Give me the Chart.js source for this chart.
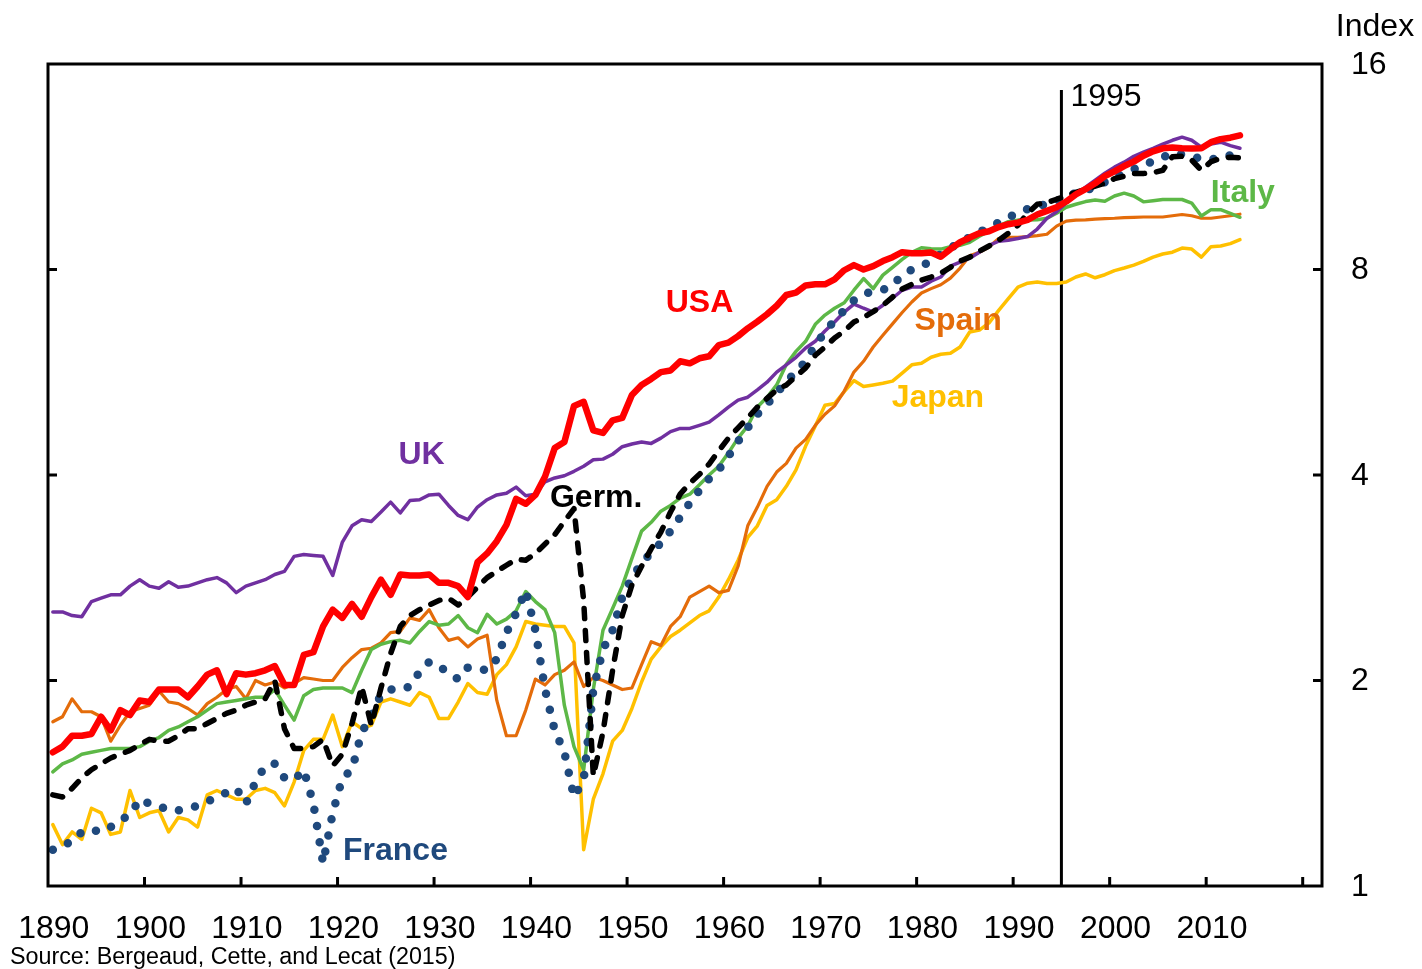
<!DOCTYPE html>
<html>
<head>
<meta charset="utf-8">
<title>Labour productivity index, 1890-2013</title>
<script src="https://cdn.jsdelivr.net/npm/chart.js@4.4.1/dist/chart.umd.min.js"></script>
<style>
  html, body { margin: 0; padding: 0; background: #ffffff; }
  #wrap { width: 1422px; height: 969px; position: relative; }
</style>
</head>
<body>
<div id="wrap"><canvas id="chart" width="1422" height="969"></canvas></div>
<script>
// Annual index values, 1890 to 2013 (log scale, 1 to 16)
const firstYear = 1890;

const usa = [
  1.57,1.60,1.66,1.66,1.67,1.77,1.69,1.81,1.78,1.87,
  1.86,1.94,1.94,1.94,1.89,1.96,2.04,2.07,1.91,2.05,
  2.04,2.05,2.07,2.10,1.97,1.97,2.18,2.20,2.40,2.54,
  2.47,2.59,2.48,2.65,2.81,2.67,2.86,2.85,2.85,2.86,
  2.78,2.78,2.75,2.65,2.98,3.07,3.20,3.38,3.69,3.63,
  3.74,3.98,4.38,4.47,5.05,5.12,4.65,4.61,4.81,4.85,
  5.24,5.42,5.53,5.66,5.69,5.87,5.83,5.93,5.97,6.20,
  6.25,6.39,6.56,6.71,6.88,7.08,7.34,7.40,7.58,7.61,
  7.61,7.74,7.98,8.12,8.00,8.09,8.23,8.34,8.48,8.45,
  8.45,8.47,8.35,8.57,8.77,8.91,9.04,9.10,9.23,9.32,
  9.37,9.46,9.63,9.75,9.87,10.06,10.31,10.49,10.70,10.96,
  11.14,11.34,11.51,11.74,11.92,12.04,12.07,12.04,12.03,12.04,
  12.29,12.42,12.48,12.58
];

const uk = [
  2.52,2.52,2.49,2.48,2.61,2.64,2.67,2.67,2.75,2.81,
  2.75,2.73,2.79,2.74,2.75,2.78,2.81,2.83,2.78,2.69,
  2.75,2.78,2.81,2.86,2.89,3.04,3.06,3.05,3.04,2.85,
  3.19,3.37,3.44,3.42,3.53,3.65,3.52,3.67,3.68,3.74,
  3.75,3.61,3.49,3.44,3.59,3.68,3.74,3.76,3.84,3.73,
  3.75,3.91,3.96,3.99,4.05,4.12,4.21,4.22,4.29,4.40,
  4.44,4.47,4.45,4.53,4.63,4.68,4.68,4.73,4.78,4.90,
  5.03,5.15,5.20,5.33,5.47,5.66,5.80,5.95,6.14,6.28,
  6.50,6.70,6.93,7.12,7.02,6.93,7.09,7.26,7.46,7.54,
  7.54,7.69,7.80,8.09,8.20,8.31,8.48,8.68,8.80,8.83,
  8.88,8.94,9.17,9.51,9.72,10.01,10.31,10.56,10.81,11.07,
  11.30,11.49,11.72,11.89,12.04,12.21,12.37,12.50,12.37,12.09,
  12.21,12.29,12.15,12.04
];

const germany = [
  1.36,1.35,1.39,1.44,1.48,1.51,1.54,1.56,1.58,1.61,
  1.64,1.63,1.63,1.66,1.70,1.70,1.73,1.76,1.79,1.81,
  1.84,1.86,1.88,2.00,1.70,1.59,1.59,1.60,1.64,1.50,
  1.56,1.73,1.96,1.72,1.95,2.19,2.40,2.49,2.54,2.58,
  2.62,2.64,2.58,2.65,2.74,2.83,2.89,2.95,3.01,3.00,
  3.07,3.17,3.27,3.42,3.57,2.62,1.45,1.68,2.07,2.49,
  2.76,2.94,3.12,3.30,3.53,3.75,3.89,4.01,4.15,4.34,
  4.53,4.69,4.85,5.03,5.18,5.33,5.42,5.58,5.74,5.99,
  6.16,6.35,6.50,6.70,6.81,6.94,7.09,7.29,7.49,7.61,
  7.72,7.80,7.90,8.06,8.23,8.34,8.51,8.66,8.83,9.04,
  9.29,9.67,9.97,10.02,10.14,10.25,10.38,10.49,10.60,10.70,
  10.87,10.96,11.06,11.06,11.09,11.18,11.70,11.72,11.57,11.18,
  11.51,11.64,11.68,11.66
];

const france = [
  1.13,1.15,1.16,1.20,1.21,1.20,1.22,1.25,1.27,1.34,
  1.32,1.31,1.29,1.29,1.30,1.31,1.33,1.35,1.37,1.39,
  1.32,1.42,1.50,1.51,1.44,1.43,1.48,1.32,1.08,1.28,
  1.44,1.48,1.68,1.77,1.91,1.94,1.94,1.96,2.06,2.13,
  2.10,2.05,2.01,2.09,2.08,2.07,2.15,2.35,2.51,2.71,
  2.37,1.94,1.69,1.57,1.35,1.43,1.94,2.22,2.37,2.65,
  2.83,2.97,3.08,3.18,3.31,3.47,3.64,3.80,3.95,4.07,
  4.26,4.48,4.69,4.91,5.08,5.27,5.49,5.66,5.87,6.20,
  6.48,6.74,6.97,7.21,7.36,7.44,7.47,7.59,7.85,8.00,
  8.12,8.20,8.43,8.60,8.77,8.92,9.07,9.23,9.37,9.53,
  9.69,9.81,9.91,9.97,10.07,10.25,10.35,10.43,10.58,10.74,
  10.92,11.07,11.22,11.37,11.53,11.68,11.84,11.80,11.70,11.64,
  11.59,11.68,11.76,11.70
];

const italy = [
  1.47,1.51,1.53,1.56,1.57,1.58,1.59,1.59,1.59,1.60,
  1.63,1.65,1.69,1.71,1.74,1.77,1.81,1.85,1.86,1.87,
  1.88,1.89,1.89,1.94,1.84,1.75,1.90,1.94,1.95,1.95,
  1.95,1.92,2.07,2.22,2.26,2.28,2.29,2.27,2.36,2.44,
  2.41,2.42,2.49,2.39,2.35,2.50,2.42,2.46,2.53,2.70,
  2.61,2.54,2.35,1.84,1.60,1.48,1.94,2.37,2.55,2.75,
  3.02,3.31,3.41,3.54,3.61,3.70,3.75,3.87,4.00,4.12,
  4.31,4.53,4.72,5.03,5.20,5.42,5.81,6.07,6.28,6.65,
  6.86,7.02,7.15,7.46,7.76,7.50,7.85,8.06,8.28,8.48,
  8.61,8.58,8.57,8.64,8.68,8.77,8.95,9.10,9.26,9.40,
  9.45,9.45,9.46,9.51,9.67,9.87,9.97,10.06,10.11,10.07,
  10.25,10.35,10.25,10.05,10.09,10.13,10.13,10.13,10.01,9.58,
  9.79,9.79,9.67,9.54
];

const spain = [
  1.74,1.77,1.88,1.80,1.80,1.77,1.63,1.72,1.80,1.82,
  1.84,1.93,1.86,1.85,1.82,1.78,1.85,1.89,1.94,1.96,
  1.88,2.00,1.97,1.99,1.95,1.98,2.02,2.01,2.00,2.00,
  2.09,2.16,2.22,2.23,2.27,2.35,2.36,2.47,2.45,2.54,
  2.39,2.29,2.31,2.24,2.30,2.33,1.87,1.66,1.66,1.81,
  2.01,1.97,2.04,2.07,2.13,1.96,2.02,2.00,1.97,1.94,
  1.95,2.11,2.28,2.25,2.40,2.48,2.65,2.70,2.75,2.69,
  2.71,2.94,3.37,3.59,3.85,4.04,4.16,4.38,4.51,4.73,
  4.91,5.05,5.31,5.66,5.87,6.16,6.41,6.66,6.92,7.17,
  7.39,7.50,7.60,7.77,8.04,8.38,8.48,8.63,8.88,8.92,
  8.92,8.94,8.97,9.01,9.26,9.42,9.45,9.46,9.48,9.50,
  9.51,9.53,9.54,9.55,9.55,9.55,9.59,9.63,9.59,9.51,
  9.51,9.55,9.59,9.64
];

const japan = [
  1.23,1.15,1.20,1.17,1.30,1.28,1.19,1.20,1.38,1.26,
  1.28,1.29,1.20,1.26,1.25,1.22,1.36,1.38,1.36,1.34,
  1.34,1.38,1.39,1.37,1.31,1.42,1.58,1.64,1.64,1.78,
  1.60,1.74,1.70,1.72,1.86,1.88,1.86,1.84,1.92,1.89,
  1.76,1.76,1.86,1.98,1.92,1.91,2.04,2.11,2.24,2.44,
  2.42,2.41,2.40,2.40,2.27,1.13,1.34,1.46,1.63,1.69,
  1.82,1.99,2.15,2.24,2.32,2.37,2.43,2.49,2.53,2.65,
  2.81,3.00,3.24,3.37,3.61,3.68,3.85,4.07,4.41,4.72,
  5.06,5.09,5.30,5.50,5.39,5.42,5.45,5.49,5.64,5.80,
  5.83,5.95,6.01,6.03,6.16,6.48,6.52,6.68,6.97,7.25,
  7.54,7.64,7.67,7.63,7.63,7.67,7.80,7.88,7.78,7.86,
  7.97,8.04,8.12,8.22,8.34,8.43,8.48,8.60,8.57,8.34,
  8.64,8.66,8.73,8.85
];

// Axis definitions
const xFirstCategory = 1890;
const xLastCategory = 2021;
const decadeLabels = [1890, 1900, 1910, 1920, 1930, 1940, 1950, 1960, 1970, 1980, 1990, 2000, 2010];
const decadeTicks = [1900, 1910, 1920, 1930, 1940, 1950, 1960, 1970, 1980, 1990, 2000, 2010, 2020];
const yTickValues = [1, 2, 4, 8, 16];
const innerYTicks = [2, 4, 8];
const markerYear = 1995;

// Series name labels, anchored in data space (year, index)
const seriesLabels = [
  { text: 'USA',    year: 1957.0, value: 6.93, color: '#FF0000' },
  { text: 'UK',     year: 1928.2, value: 4.15, color: '#7030A0' },
  { text: 'Germ.',  year: 1946.3, value: 3.59, color: '#000000' },
  { text: 'France', year: 1925.5, value: 1.09, color: '#1F497D' },
  { text: 'Italy',  year: 2013.3, value: 10.05, color: '#5DB847' },
  { text: 'Spain',  year: 1983.8, value: 6.52, color: '#E46C0A' },
  { text: 'Japan',  year: 1981.7, value: 5.03, color: '#FFC000' }
];

const years = usa.map((_, i) => firstYear + i);
const toPoints = vals => vals.map((v, i) => ({ x: years[i], y: v }));

const FONT = '"Liberation Sans", Arial, Helvetica, sans-serif';

const datasets = [
  { label: 'USA', data: toPoints(usa), borderColor: '#FF0000', borderWidth: 6.5 },
  { label: 'Germany', data: toPoints(germany), borderColor: '#000000', borderWidth: 5.5,
    borderDash: [10, 12], borderCapStyle: 'round' },
  { label: 'France', data: toPoints(france), borderColor: '#1F497D', borderWidth: 8.5,
    borderDash: [0, 16.5], borderCapStyle: 'round' },
  { label: 'UK', data: toPoints(uk), borderColor: '#7030A0', borderWidth: 3.5 },
  { label: 'Italy', data: toPoints(italy), borderColor: '#5DB847', borderWidth: 3.5 },
  { label: 'Spain', data: toPoints(spain), borderColor: '#E46C0A', borderWidth: 3.2 },
  { label: 'Japan', data: toPoints(japan), borderColor: '#FFC000', borderWidth: 3.5 }
].map(d => Object.assign({
  pointRadius: 0,
  pointHoverRadius: 0,
  tension: 0,
  fill: false,
  borderJoinStyle: 'round',
  borderCapStyle: d.borderCapStyle || 'round'
}, d));

const decor = {
  id: 'decor',
  beforeDraw(chart) {
    const ctx = chart.ctx;
    ctx.save();
    ctx.fillStyle = '#ffffff';
    ctx.fillRect(0, 0, chart.width, chart.height);
    ctx.restore();
  },
  beforeDatasetsDraw(chart) {
    const ctx = chart.ctx;
    const area = chart.chartArea;
    const xs = chart.scales.x;
    // vertical marker at the start of 1995
    const mx = xs.getPixelForValue(markerYear - 0.5);
    ctx.save();
    ctx.strokeStyle = '#000000';
    ctx.lineWidth = 3;
    ctx.beginPath();
    ctx.moveTo(mx, area.top + 26);
    ctx.lineTo(mx, area.bottom);
    ctx.stroke();
    ctx.fillStyle = '#000000';
    ctx.font = '32px ' + FONT;
    ctx.textAlign = 'left';
    ctx.textBaseline = 'alphabetic';
    ctx.fillText(String(markerYear), mx + 9, area.top + 42);
    ctx.restore();
  },
  afterDatasetsDraw(chart) {
    const ctx = chart.ctx;
    const area = chart.chartArea;
    const xs = chart.scales.x;
    const ys = chart.scales.y;
    ctx.save();

    // plot frame
    ctx.strokeStyle = '#000000';
    ctx.lineWidth = 3;
    ctx.strokeRect(area.left, area.top, area.right - area.left, area.bottom - area.top);

    // tick marks, pointing into the plot
    ctx.lineWidth = 3;
    ctx.beginPath();
    decadeTicks.forEach(d => {
      const x = xs.getPixelForValue(d - 0.5);
      ctx.moveTo(x, area.bottom);
      ctx.lineTo(x, area.bottom - 9);
    });
    innerYTicks.forEach(v => {
      const y = ys.getPixelForValue(v);
      ctx.moveTo(area.left, y);
      ctx.lineTo(area.left + 9, y);
      ctx.moveTo(area.right, y);
      ctx.lineTo(area.right - 9, y);
    });
    ctx.stroke();

    // x labels
    ctx.fillStyle = '#000000';
    ctx.font = '32px ' + FONT;
    ctx.textAlign = 'center';
    ctx.textBaseline = 'middle';
    decadeLabels.forEach(d => {
      ctx.fillText(String(d), xs.getPixelForValue(d) + 1, area.bottom + 43);
    });

    // y labels on the right
    ctx.textAlign = 'left';
    yTickValues.forEach(v => {
      ctx.fillText(String(v), area.right + 29, ys.getPixelForValue(v) + 1);
    });
    ctx.textAlign = 'center';
    ctx.fillText('Index', area.right + 53, area.top - 37);

    // series names
    ctx.font = 'bold 32px ' + FONT;
    ctx.textBaseline = 'alphabetic';
    seriesLabels.forEach(l => {
      ctx.fillStyle = l.color;
      ctx.fillText(l.text, xs.getPixelForValue(l.year), ys.getPixelForValue(l.value));
    });

    // source note
    ctx.fillStyle = '#000000';
    ctx.font = '23.3px ' + FONT;
    ctx.textAlign = 'left';
    ctx.fillText('Source: Bergeaud, Cette, and Lecat (2015)', 10, 964);

    ctx.restore();
  }
};

new Chart(document.getElementById('chart'), {
  type: 'line',
  data: { datasets },
  options: {
    responsive: false,
    animation: false,
    devicePixelRatio: 1,
    events: [],
    layout: { padding: { left: 48, right: 100, top: 64, bottom: 83 } },
    plugins: { legend: { display: false }, tooltip: { enabled: false } },
    scales: {
      x: { type: 'linear', min: xFirstCategory - 0.5, max: xLastCategory + 0.5, display: false },
      y: { type: 'logarithmic', min: 1, max: 16, display: false }
    }
  },
  plugins: [decor]
});
</script>
</body>
</html>
